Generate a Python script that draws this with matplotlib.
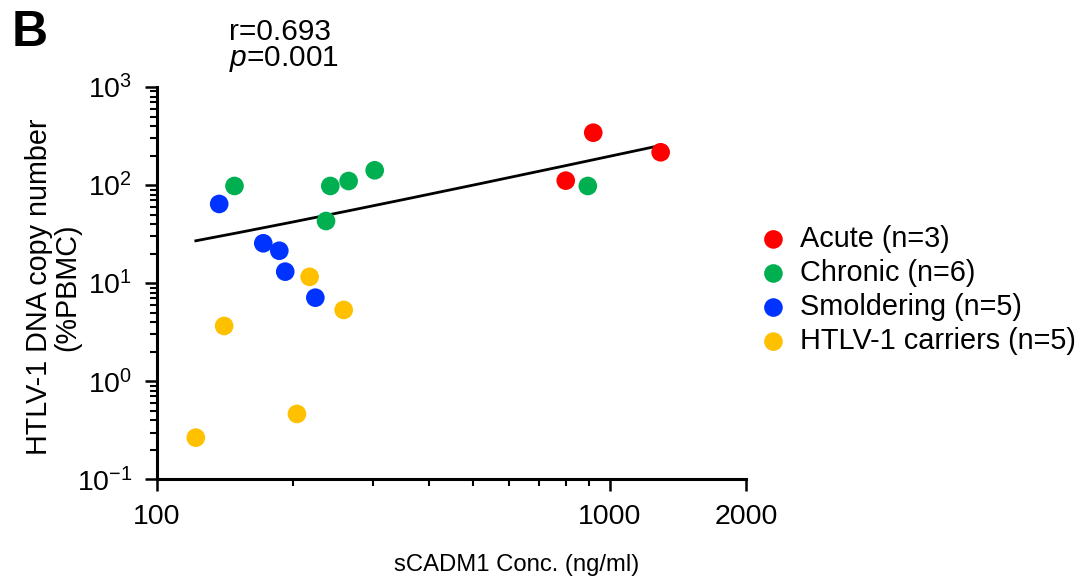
import numpy as np
import matplotlib
matplotlib.use("Agg")
import matplotlib.pyplot as plt
from matplotlib.ticker import FixedLocator, NullFormatter, LogLocator, FixedFormatter

plt.rcParams['font.family'] = ['Liberation Sans', 'DejaVu Sans']
plt.rcParams['mathtext.fontset'] = 'custom'
plt.rcParams['mathtext.rm'] = 'Liberation Sans'
plt.rcParams['mathtext.it'] = 'Liberation Sans:italic'
plt.rcParams['mathtext.bf'] = 'Liberation Sans:bold'

# ---- data (sCADM1 ng/ml, HTLV-1 copy number %PBMC) ----
acute_x = [800, 920, 1296]
acute_y = [111, 342, 216]
chronic_x = [148.5, 241.7, 265.3, 302.9, 236.5, 895]
chronic_y = [97.9, 97.9, 110, 141.5, 43, 97.9]
smold_x = [137.4, 171.9, 186.5, 192.2, 224]
smold_y = [64.2, 25.5, 21.4, 13.1, 7.11]
carrier_x = [217.6, 258.7, 140.9, 204, 122]
carrier_y = [11.6, 5.33, 3.66, 0.464, 0.266]

group_labels = ["Acute (n=3)", "Chronic (n=6)", "Smoldering (n=5)", "HTLV-1 carriers (n=5)"]
group_colors = ["#FF0000", "#00B050", "#0033FF", "#FFC000"]

x_major = [100, 1000, 2000]
x_major_labels = ["100", "1000", "2000"]
x_minor = [200, 300, 400, 500, 600, 700, 800, 900]
y_major = [0.1, 1, 10, 100, 1000]
y_major_labels = [r"$10^{-1}$", r"$10^{0}$", r"$10^{1}$", r"$10^{2}$", r"$10^{3}$"]

stat_r = "r=0.693"
stat_p = "=0.001"

W, H = 1087, 583
fig = plt.figure(figsize=(W / 100, H / 100), dpi=100)
ax = fig.add_axes([156.7 / W, 1 - 479.3 / H, (746 - 156.7) / W, (479.3 - 87) / H])
ax.set_xscale('log')
ax.set_yscale('log')
ax.set_xlim(100, 2000)
ax.set_ylim(0.1, 1000)

# trend line: linear least-squares fit of y on x across all points
all_x = np.array(acute_x + chronic_x + smold_x + carrier_x)
all_y = np.array(acute_y + chronic_y + smold_y + carrier_y)
b, a = np.polyfit(all_x, all_y, 1)
xs = np.linspace(all_x.min(), all_x.max(), 400)
ax.plot(xs, a + b * xs, color='black', lw=2.0, zorder=2)

msize = 180
handles = []
for gx, gy, lab, col in zip([acute_x, chronic_x, smold_x, carrier_x],
                            [acute_y, chronic_y, smold_y, carrier_y],
                            group_labels, group_colors):
    h = ax.scatter(gx, gy, s=msize, color=col, edgecolors='none', label=lab,
                   zorder=3, clip_on=False)
    handles.append(h)

for side in ['top', 'right']:
    ax.spines[side].set_visible(False)
for side in ['left', 'bottom']:
    ax.spines[side].set_linewidth(2.2)
    ax.spines[side].set_color('black')

ax.xaxis.set_major_locator(FixedLocator(x_major))
ax.xaxis.set_major_formatter(FixedFormatter(x_major_labels))
ax.xaxis.set_minor_locator(FixedLocator(x_minor))
ax.xaxis.set_minor_formatter(NullFormatter())
ax.yaxis.set_major_locator(FixedLocator(y_major))
ax.yaxis.set_major_formatter(FixedFormatter(y_major_labels))
ax.yaxis.set_minor_locator(LogLocator(base=10, subs=np.arange(2, 10)))
ax.yaxis.set_minor_formatter(NullFormatter())

ax.tick_params(which='major', direction='out', length=8.6, width=1.8, labelsize=20.5, pad=9)
ax.tick_params(which='minor', direction='out', length=5.2, width=1.5)

fig.text(517 / W, 1 - 565 / H, "sCADM1 Conc. (ng/ml)", ha='center', va='center', fontsize=17.2)
fig.text(53 / W, 1 - 287 / H, "HTLV-1 DNA copy number\n(%PBMC)", ha='center', va='center',
         rotation=90, fontsize=20.7, multialignment='center', linespacing=1.02)

fig.text(12 / W, 1 - 33 / H, "B", fontsize=36, fontweight='bold', ha='left', va='center')
fig.text(229 / W, 1 - 32 / H, stat_r, fontsize=21.5, ha='left', va='center')
fig.text(229 / W, 1 - 59 / H, r"$\it{p}$" + stat_p, fontsize=21.5, ha='left', va='center')

leg = fig.legend(handles=handles, labels=group_labels, loc='upper left',
                 bbox_to_anchor=(759 / W, 1 - 225 / H), frameon=False, fontsize=20.8,
                 handlelength=1.0, handletextpad=0.43, labelspacing=0.21, borderpad=0,
                 borderaxespad=0, scatterpoints=1, markerscale=1.0)

fig.savefig("out.png", dpi=100)
